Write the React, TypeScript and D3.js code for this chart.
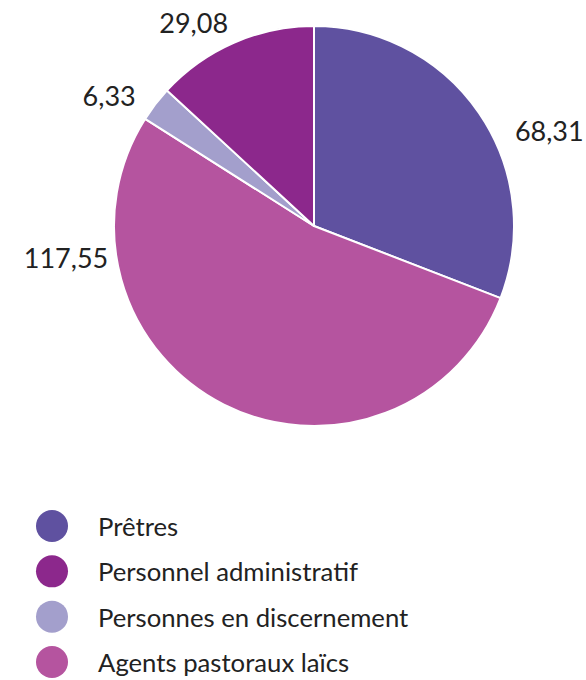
import React from "react";
import * as d3 from "d3";

const categories = ["Prêtres", "Agents pastoraux laïcs", "Personnes en discernement", "Personnel administratif"];
const values = [68.31, 117.55, 6.33, 29.08];
const valueLabels = ["68,31", "117,55", "6,33", "29,08"];
const colors = ["#5f51a0", "#b5549f", "#a39fcc", "#8c288c"];
const legendOrder = ["Prêtres", "Personnel administratif", "Personnes en discernement", "Agents pastoraux laïcs"];

// layout: label angle shift (degrees) from slice mid-angle, and label radius
const labelShift = [12.3, 56, -5, -7];
const labelRadius = [254, 250, 243, 236];

const W = 586, H = 680;
const cx = 314, cy = 226, R = 200;

export default function App() {
  const pie = d3.pie<number>().sort(null).value((d) => d);
  const arcs = pie(values);
  const arc = d3.arc<d3.PieArcDatum<number>>().innerRadius(0).outerRadius(R);
  const colorScale = d3.scaleOrdinal<string, string>().domain(categories).range(colors);
  const legendY = d3.scalePoint<string>().domain(legendOrder).range([526, 662]);
  const font = "Lato, 'Open Sans', sans-serif";
  return (
    <svg width={W} height={H} style={{ position: "absolute", left: 0, top: 0, background: "#fff" }}>
      <g transform={`translate(${cx},${cy})`}>
        {arcs.map((a, i) => (
          <path key={i} d={arc(a) || ""} fill={colorScale(categories[i])} stroke="#fff" strokeWidth={2} strokeLinejoin="round" />
        ))}
        {arcs.map((a, i) => {
          const mid = (a.startAngle + a.endAngle) / 2 + (labelShift[i] * Math.PI) / 180;
          const x = labelRadius[i] * Math.sin(mid);
          const y = -labelRadius[i] * Math.cos(mid);
          return (
            <text key={i} x={x} y={y} textAnchor="middle" dominantBaseline="central" fontFamily={font} fontSize={27} fill="#222">
              {valueLabels[i]}
            </text>
          );
        })}
      </g>
      <g>
        {legendOrder.map((c) => (
          <g key={c} transform={`translate(0,${legendY(c)})`}>
            <circle cx={52} cy={0} r={16} fill={colorScale(c)} />
            <text x={98} y={0} dominantBaseline="central" fontFamily={font} fontSize={25.7} fill="#222">
              {c}
            </text>
          </g>
        ))}
      </g>
    </svg>
  );
}
